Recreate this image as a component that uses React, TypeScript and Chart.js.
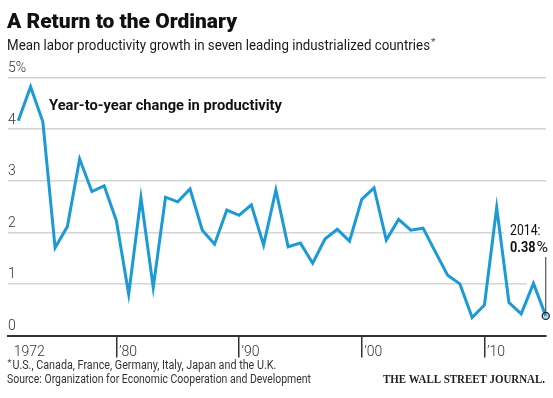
import React, { useEffect, useRef } from "react";
import { Chart, registerables } from "chart.js";

Chart.register(...registerables);

// ---- Data ----
const years = [
  1972, 1973, 1974, 1975, 1976, 1977, 1978, 1979, 1980, 1981, 1982, 1983, 1984, 1985, 1986,
  1987, 1988, 1989, 1990, 1991, 1992, 1993, 1994, 1995, 1996, 1997, 1998, 1999, 2000, 2001,
  2002, 2003, 2004, 2005, 2006, 2007, 2008, 2009, 2010, 2011, 2012, 2013, 2014, 2015,
];
const productivity = [
  4.16, 4.82, 4.14, 1.7, 2.11, 3.42, 2.79, 2.9, 2.22, 0.8, 2.67, 0.93, 2.68, 2.59, 2.84,
  2.04, 1.77, 2.43, 2.33, 2.53, 1.75, 2.82, 1.72, 1.79, 1.4, 1.87, 2.06, 1.83, 2.64, 2.86,
  1.85, 2.25, 2.04, 2.08, 1.62, 1.17, 1.0, 0.35, 0.59, 2.48, 0.64, 0.42, 1.01, 0.38,
];
const xTicks = [1972, 1980, 1990, 2000, 2010];
const xTickLabels = ["1972", "\u201980", "\u201990", "\u201900", "\u201910"];
const yTicks = [0, 1, 2, 3, 4, 5];
const yTickLabels = ["0", "1", "2", "3", "4", "5%"];

const TITLE = "A Return to the Ordinary";
const SUBTITLE = "Mean labor productivity growth in seven leading industrialized countries";
const SERIES_LABEL = "Year-to-year change in productivity";
const NOTE = "U.S., Canada, France, Germany, Italy, Japan and the U.K.";
const SOURCE = "Source: Organization for Economic Cooperation and Development";
const BRAND = "THE WALL STREET JOURNAL.";
const END_YEAR_LABEL = "2014:";
const END_VALUE_LABEL = "0.38";

const BLUE = "#1c9ad6";
const DARK = "#333333";
const GRID = "#d4d4d4";
const SANS = "Roboto, 'Noto Sans', sans-serif";

function fitText(
  ctx: CanvasRenderingContext2D,
  text: string,
  x: number,
  y: number,
  font: string,
  color: string,
  width: number,
  align: "left" | "right" = "left"
) {
  ctx.save();
  ctx.font = font;
  ctx.fillStyle = color;
  ctx.textBaseline = "alphabetic";
  ctx.textAlign = "left";
  const w = ctx.measureText(text).width;
  const s = width / w;
  const x0 = align === "right" ? x - width : x;
  ctx.translate(x0, y);
  ctx.scale(s, 1);
  ctx.fillText(text, 0, 0);
  ctx.restore();
}

const decorPlugin = {
  id: "decor",
  beforeDraw(chart: any) {
    const ctx = chart.ctx;
    ctx.save();
    ctx.fillStyle = "#ffffff";
    ctx.fillRect(0, 0, chart.width, chart.height);
    ctx.restore();
  },
  beforeDatasetsDraw(chart: any) {
    const ctx = chart.ctx;
    const y = chart.scales.y;
    const area = chart.chartArea;
    ctx.save();
    ctx.fillStyle = "#ffffff";
    const g2 = y.getPixelForValue(2);
    ctx.fillRect(504, g2 - 3, area.right - 504 + 2, 6);
    const g1 = y.getPixelForValue(1);
    ctx.fillRect(527, g1 - 3, area.right - 527 + 2, 6);
    ctx.restore();
  },
  afterDraw(chart: any) {
    const ctx = chart.ctx;
    const xs = chart.scales.x;
    const ys = chart.scales.y;

    fitText(ctx, TITLE, 7, 28, `900 20px ${SANS}`, "#111", 230);
    fitText(ctx, SUBTITLE, 7, 49.5, `15px ${SANS}`, "#1a1a1a", 423);
    fitText(ctx, "*", 431, 45, `9px ${SANS}`, "#444", 4.5);

    fitText(ctx, SERIES_LABEL, 49, 110, `bold 15px ${SANS}`, "#111", 233);

    xTicks.forEach((t, i) => {
      const px = xs.getPixelForValue(t);
      const lx = i === 0 ? px - 4.5 : px + 2.5;
      ctx.save();
      ctx.font = `300 14px ${SANS}`;
      ctx.fillStyle = DARK;
      ctx.textAlign = "left";
      ctx.textBaseline = "alphabetic";
      ctx.fillText(xTickLabels[i], lx, 356);
      ctx.restore();
    });

    const last = productivity.length - 1;
    const ex = xs.getPixelForValue(years[last]);
    const ey = ys.getPixelForValue(productivity[last]);
    ctx.save();
    ctx.strokeStyle = DARK;
    ctx.lineWidth = 1;
    ctx.beginPath();
    ctx.moveTo(ex, 257);
    ctx.lineTo(ex, ey - 4);
    ctx.stroke();
    ctx.restore();
    fitText(ctx, END_YEAR_LABEL, 510, 235, `15px ${SANS}`, "#111", 30.5);
    fitText(ctx, END_VALUE_LABEL, 510, 251.5, `bold 15px ${SANS}`, "#111", 25.5);
    fitText(ctx, "%", 536.5, 251.5, `15px ${SANS}`, "#111", 11.5);

    fitText(ctx, "*", 7.5, 366, `9px ${SANS}`, "#444", 4);
    fitText(ctx, NOTE, 12.4, 369, `12px ${SANS}`, "#333", 264);
    fitText(ctx, SOURCE, 7, 383, `12px ${SANS}`, "#333", 304);
    fitText(ctx, BRAND, 545, 383, `bold 12px 'Liberation Serif', 'DejaVu Serif', serif`, "#222", 162, "right");
  },
};

export default function App() {
  const ref = useRef<HTMLCanvasElement | null>(null);

  useEffect(() => {
    if (!ref.current) return;
    const chart = new Chart(ref.current, {
      type: "line",
      data: {
        datasets: [
          {
            label: SERIES_LABEL,
            data: years.map((yr, i) => ({ x: yr, y: productivity[i] })),
            borderColor: BLUE,
            borderWidth: 3,
            tension: 0,
            fill: false,
            clip: false as any,
            borderJoinStyle: "miter",
            pointRadius: (c: any) => (c.dataIndex === productivity.length - 1 ? 3.5 : 0),
            pointHoverRadius: 0,
            pointBorderColor: "#222",
            pointBorderWidth: 1.3,
            pointBackgroundColor: "rgba(28,154,214,0.35)",
          },
        ],
      },
      options: {
        animation: false,
        responsive: false,
        maintainAspectRatio: false,
        devicePixelRatio: 1,
        events: [],
        layout: { padding: { left: 8, right: 7, top: 77.5, bottom: 0 } },
        plugins: {
          legend: { display: false },
          tooltip: { enabled: false },
          title: { display: false },
        },
        scales: {
          x: {
            type: "linear",
            min: 1971.16,
            max: 2015.02,
            afterBuildTicks: (s: any) => {
              s.ticks = xTicks.map((v) => ({ value: v }));
            },
            afterFit: (s: any) => {
              s.height = 62.5;
            },
            ticks: { display: false },
            grid: {
              drawOnChartArea: false,
              drawTicks: true,
              tickLength: 22,
              lineWidth: 1.5,
              tickColor: (c: any) => (c.tick && c.tick.value === xTicks[0] ? "rgba(0,0,0,0)" : DARK),
              color: (c: any) => (c.tick && c.tick.value === xTicks[0] ? "rgba(0,0,0,0)" : DARK),
            },
            border: { display: true, color: DARK, width: 2 },
          },
          y: {
            type: "linear",
            min: 0,
            max: 5,
            afterBuildTicks: (s: any) => {
              s.ticks = yTicks.map((v) => ({ value: v }));
            },
            afterFit: (s: any) => {
              s.width = 0;
            },
            ticks: {
              mirror: true,
              padding: 0,
              labelOffset: -9,
              color: DARK,
              font: { family: SANS, size: 14, weight: "300" as any },
              callback: (v: any) => {
                const i = yTicks.indexOf(Number(v));
                return i >= 0 ? yTickLabels[i] : "";
              },
            },
            grid: {
              drawTicks: false,
              lineWidth: 1.5,
              color: (c: any) => (c.tick && c.tick.value === 0 ? "rgba(0,0,0,0)" : GRID),
            },
            border: { display: false },
          },
        },
      },
      plugins: [decorPlugin],
    });
    return () => chart.destroy();
  }, []);

  return (
    <div style={{ position: "fixed", left: 0, top: 0, width: 553, height: 398, background: "#fff" }}>
      <canvas ref={ref} width={553} height={398} style={{ display: "block", width: 553, height: 398 }} />
    </div>
  );
}
